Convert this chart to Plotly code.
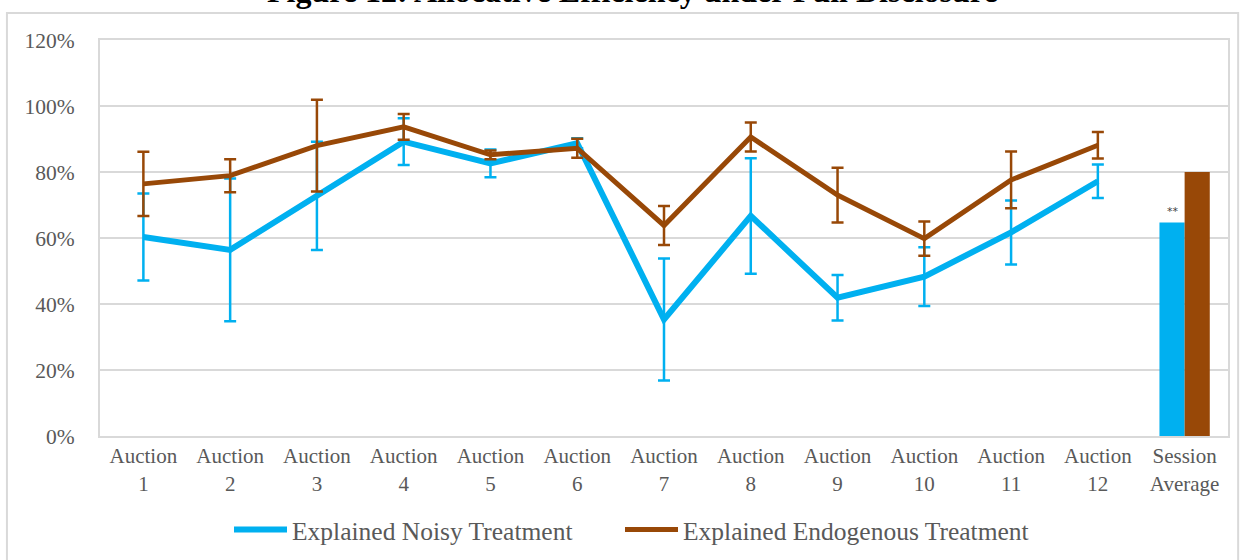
import plotly.graph_objects as go

# Categories on the x axis
auctions = ["Auction<br>%d" % i for i in range(1, 13)]
session_label = "Session<br>Average"
categories = auctions + [session_label]

# Allocative efficiency (%) per auction, with error-bar half widths
noisy_mean = [60.3, 56.4, 72.8, 89.2, 82.6, 88.7, 35.3, 66.7, 41.9, 48.3, 61.7, 77.2]
noisy_err = [13.2, 21.6, 16.4, 7.1, 4.2, 1.5, 18.5, 17.5, 6.9, 8.9, 9.7, 5.1]
endog_mean = [76.4, 78.9, 88.0, 93.7, 85.2, 87.2, 63.8, 90.6, 73.0, 59.8, 77.6, 88.1]
endog_err = [9.7, 5.0, 13.9, 3.9, 1.3, 2.9, 5.9, 4.4, 8.3, 5.2, 8.6, 4.0]

# Session averages (%)
noisy_session = 64.7
endog_session = 80.0

names = ["Explained Noisy Treatment", "Explained Endogenous Treatment"]
blue = "#00B0F0"
brown = "#984807"
grid = "#D9D9D9"
text_col = "#595959"
font_family = "Liberation Serif, Times New Roman, serif"

fig = go.Figure()

fig.add_trace(go.Bar(
    x=[session_label], y=[noisy_session], marker=dict(color=blue, line=dict(width=0)),
    showlegend=False, offsetgroup="a", hoverinfo="skip",
))
fig.add_trace(go.Bar(
    x=[session_label], y=[endog_session], marker=dict(color=brown, line=dict(width=0)),
    showlegend=False, offsetgroup="b", hoverinfo="skip",
))

fig.add_trace(go.Scatter(
    x=auctions, y=noisy_mean, mode="lines", name=names[0],
    line=dict(color=blue, width=6), legend="legend",
    error_y=dict(type="data", array=noisy_err, visible=True, color=blue,
                 thickness=2.5, width=6),
))
fig.add_trace(go.Scatter(
    x=auctions, y=endog_mean, mode="lines", name=names[1],
    line=dict(color=brown, width=5), legend="legend2",
    error_y=dict(type="data", array=endog_err, visible=True, color=brown,
                 thickness=2.5, width=6),
))

# significance marker over the noisy session bar
fig.add_annotation(
    x=session_label, y=noisy_session, xref="x", yref="y", text="**",
    showarrow=False, yanchor="bottom", xshift=-12, yshift=2,
    font=dict(family="DejaVu Sans", size=11, color="#404040"),
)

# chart title
fig.add_annotation(
    x=0.472, y=1.0, xref="paper", yref="paper", text="<b>Figure 12: Allocative Efficiency under Full Disclosure</b>",
    showarrow=False, yanchor="bottom", xanchor="center", yshift=29,
    font=dict(family="Liberation Serif", size=32, color="black"),
)

# outer chart frame
fig.add_shape(
    type="rect", xref="paper", yref="paper",
    x0=-0.0825, x1=1.009, y0=-0.32, y1=1.068,
    line=dict(color=grid, width=2), fillcolor="rgba(0,0,0,0)", layer="below",
)

legend_style = dict(
    orientation="h", xanchor="left", yanchor="middle",
    xref="container", yref="container", y=(560 - 530) / 560,
    font=dict(family=font_family, size=25.5, color=text_col),
    bgcolor="rgba(0,0,0,0)", itemwidth=53,
)

fig.update_layout(
    width=1243, height=560,
    margin=dict(l=100, r=15, t=40, b=124),
    paper_bgcolor="white", plot_bgcolor="white",
    barmode="group", bargap=0.42, bargroupgap=0,
    font=dict(family=font_family, size=20, color=text_col),
    legend=dict(legend_style, x=(237 - 8) / 1243),
    legend2=dict(legend_style, x=(628 - 8) / 1243),
    xaxis=dict(
        type="category", categoryorder="array", categoryarray=categories,
        range=[-0.5, len(categories) - 0.5],
        showgrid=False, showline=True, mirror=True, linecolor=grid, linewidth=2,
        ticks="", tickfont=dict(size=21, color=text_col), automargin=False,
    ),
    yaxis=dict(
        range=[0, 120], dtick=20, ticksuffix="%",
        showgrid=True, gridcolor=grid, gridwidth=2,
        showline=True, mirror=True, linecolor=grid, linewidth=2,
        zeroline=False, ticks="", tickfont=dict(size=21.5, color=text_col),
        ticklabelstandoff=19, automargin=False,
    ),
)

fig.write_html("out.html")
